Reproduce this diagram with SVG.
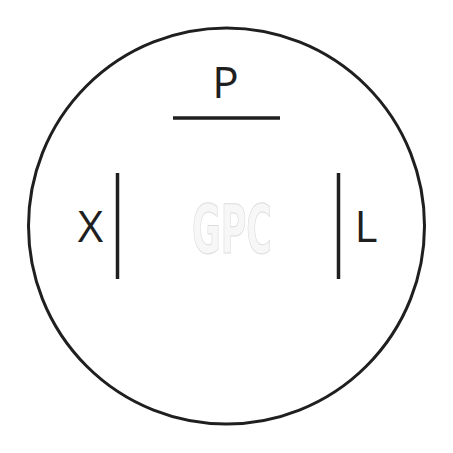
<svg xmlns="http://www.w3.org/2000/svg" width="453" height="453" viewBox="0 0 453 453">
<style>
.lbl{font-family:"Open Sans","Liberation Sans",sans-serif;font-size:44px;fill:#1f1f1f}
.bar{stroke:#1f1f1f;stroke-width:3.5;fill:none}
.wm{font-family:"DejaVu Sans","Liberation Sans",sans-serif;font-weight:bold;font-size:68px;fill:#f7f7f7;stroke:#dcdcdc;stroke-width:1}
</style>
<rect width="453" height="453" fill="#fff"/>
<g id="circle"><circle cx="226.5" cy="226" r="198" fill="none" stroke="#1f1f1f" stroke-width="3"/></g>
<g id="watermark"><text class="wm" x="192" y="253" textLength="80" lengthAdjust="spacingAndGlyphs">GPC</text></g>
<g id="connectors">
<line class="bar" x1="173" y1="118" x2="280" y2="118"/>
<line class="bar" x1="117.5" y1="173" x2="117.5" y2="279"/>
<line class="bar" x1="338.5" y1="173" x2="338.5" y2="279"/>
</g>
<g id="P"><text class="lbl" x="225.5" y="98" text-anchor="middle">P</text></g>
<g id="X"><text class="lbl" x="90.5" y="242" text-anchor="middle">X</text></g>
<g id="L"><text class="lbl" x="366" y="242" text-anchor="middle">L</text></g>
</svg>
